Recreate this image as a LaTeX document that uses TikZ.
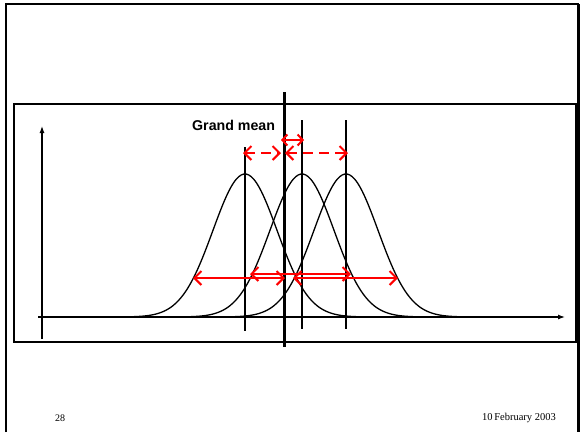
\documentclass[tikz,border=0pt]{standalone}
\usepackage{fontspec}
\setmainfont{Liberation Serif}
\setsansfont{Liberation Sans}
\usetikzlibrary{arrows.meta}

\begin{document}
\begin{tikzpicture}[x=1pt,y=-1pt,
  frame/.style={draw=black,line width=1.4pt},
  axis/.style={-{Latex[length=7pt,width=5pt]},line width=1.2pt},
  bell/.style={line width=1.3pt,smooth,samples=90},
  meanline/.style={line width=1.4pt},
  spread/.style={{Straight Barb[length=7pt,width=14pt,line width=2pt]}-{Straight Barb[length=7pt,width=14pt,line width=2pt]},red,line width=2.6pt},
  offset/.style={spread,dash pattern=on 10pt off 6pt},
]
\useasboundingbox (0,0) rectangle (581,432);
% slide frame and plot panel
\draw[frame] (6,432) -- (6,4) -- (578,4) -- (578,432);
\draw[line width=2pt] (579,4) -- (579,432);
\draw[frame] (14,104) rectangle (576,342);
% axes
\coordinate (o) at (42,317);
\coordinate (ytop) at (42,126);
\coordinate (ybot) at (42,339);
\coordinate (xl) at (38,317);
\coordinate (xr) at (565,317);
\draw[axis] (ybot) -- (ytop);
\draw[axis] (xl) -- (xr);
% three groups
\foreach \m in {245,302,346}
  \draw[bell] plot[domain=\m-112:\m+112] (\x,{317-143*exp(-((\x-\m)/32)^2/2)});
% group means and grand mean
\coordinate (m1t) at (245,147); \coordinate (m1b) at (245,331);
\coordinate (m2t) at (302,120); \coordinate (m2b) at (302,329);
\coordinate (m3t) at (346,120); \coordinate (m3b) at (346,329);
\coordinate (gt) at (284,92);   \coordinate (gb) at (284,347);
\draw[meanline] (m1t) -- (m1b);
\draw[meanline] (m2t) -- (m2b);
\draw[meanline] (m3t) -- (m3b);
\draw[line width=3pt] (gt) -- (gb);
\node[font=\sffamily\bfseries\fontsize{14.2}{16}\selectfont,anchor=west,inner sep=0pt] (gm) at (192,125) {Grand mean};
% between-group offsets
\coordinate (b1l) at (243,153); \coordinate (b1r) at (281,153);
\coordinate (b3l) at (285,153); \coordinate (b3r) at (348,153);
\coordinate (b2l) at (281,140); \coordinate (b2r) at (304,140);
\draw[offset] (b1l) -- (b1r);
\draw[offset] (b3l) -- (b3r);
\draw[spread,{Straight Barb[length=5pt,width=11pt,line width=2pt]}-{Straight Barb[length=5pt,width=11pt,line width=2pt]}] (b2l) -- (b2r);
% within-group spread
\coordinate (w1l) at (193,278); \coordinate (w1r) at (285,278);
\coordinate (w2l) at (250,274); \coordinate (w2r) at (351,274);
\coordinate (w3l) at (293,278); \coordinate (w3r) at (398,278);
\draw[spread] (w1l) -- (w1r);
\draw[spread] (w2l) -- (w2r);
\draw[spread] (w3l) -- (w3r);
% footer
\node[font=\fontsize{10}{12}\selectfont,anchor=west,inner sep=0pt] (pg) at (55,418) {28};
\node[font=\fontsize{10.5}{12}\selectfont,anchor=east,inner sep=0pt] (dt) at (556,418) {10\,February 2003};
\end{tikzpicture}
\end{document}
